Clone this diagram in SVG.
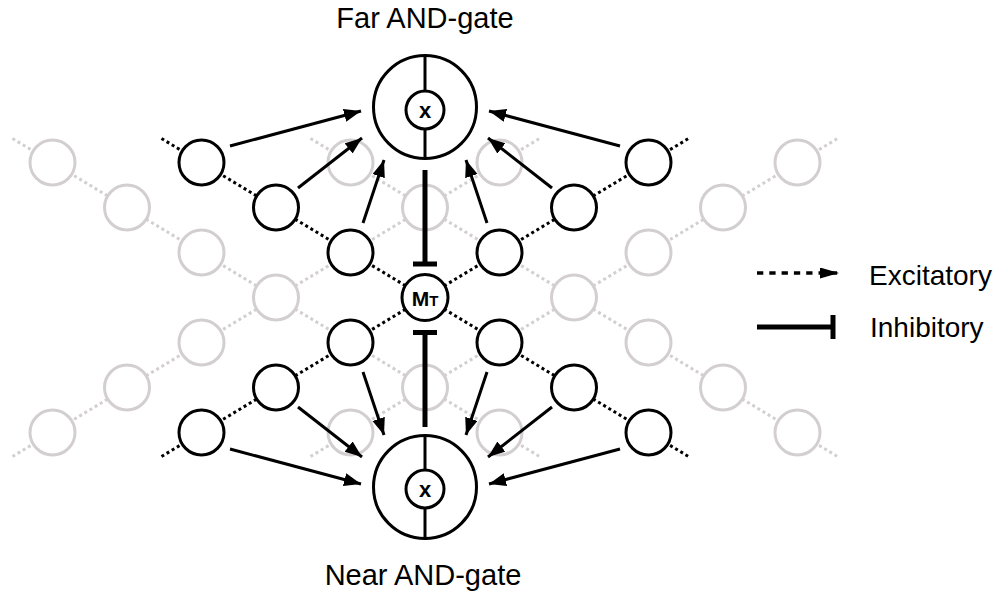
<svg xmlns="http://www.w3.org/2000/svg" width="1000" height="593" viewBox="0 0 1000 593">
<style>
.gl{stroke:#d3cfd1;stroke-width:3;stroke-dasharray:3 3;fill:none}
.bl{stroke:#000;stroke-width:3;stroke-dasharray:3 3;fill:none}
.gc{fill:#fff;stroke:#d3cfd1;stroke-width:3}
.bc{fill:#fff;stroke:#000;stroke-width:3}
.ar{stroke:#000;stroke-width:3;fill:none;marker-end:url(#ah)}
.inh{stroke:#000;stroke-width:5;fill:none}
.lab{font-family:"Liberation Sans",Arial,sans-serif;font-size:28px;fill:#000}
.glab{font-family:"Liberation Sans",Arial,sans-serif;font-size:29px;fill:#000}
.bold{font-family:"Liberation Sans",Arial,sans-serif;font-weight:bold;fill:#000}
.gx{font-size:22px}
.m{font-size:21px}
.t{font-size:15px}
</style>
<defs>
<marker id="ah" markerUnits="userSpaceOnUse" markerWidth="18" markerHeight="14" refX="17" refY="6.5" orient="auto">
<path d="M0,0 L17,6.5 L0,13 z" fill="#000"/>
</marker>
<marker id="ahs" markerUnits="userSpaceOnUse" markerWidth="20" markerHeight="12" refX="19" refY="5.5" orient="auto">
<path d="M0,0 L19,5.5 L0,11 z" fill="#000"/>
</marker>
</defs>
<g id="connectors">
<line class="gl" x1="12.5" y1="138.5" x2="539.5" y2="456.5"/>
<line class="gl" x1="310.5" y1="138.5" x2="837.5" y2="456.5"/>
<line class="gl" x1="12.5" y1="456.5" x2="539.5" y2="138.5"/>
<line class="gl" x1="310.5" y1="456.5" x2="837.5" y2="138.5"/>
<line class="bl" x1="161.5" y1="138.5" x2="688.5" y2="456.5"/>
<line class="bl" x1="161.5" y1="456.5" x2="688.5" y2="138.5"/>
</g>
<g id="grey-nodes">
<circle class="gc" cx="52.5" cy="162.5" r="22.5"/>
<circle class="gc" cx="127" cy="207.5" r="22.5"/>
<circle class="gc" cx="201.5" cy="252.5" r="22.5"/>
<circle class="gc" cx="276" cy="297.5" r="22.5"/>
<circle class="gc" cx="201.5" cy="342.5" r="22.5"/>
<circle class="gc" cx="127" cy="387.5" r="22.5"/>
<circle class="gc" cx="52.5" cy="432.5" r="22.5"/>
<circle class="gc" cx="350.5" cy="162.5" r="22.5"/>
<circle class="gc" cx="425" cy="207.5" r="22.5"/>
<circle class="gc" cx="499.5" cy="162.5" r="22.5"/>
<circle class="gc" cx="350.5" cy="432.5" r="22.5"/>
<circle class="gc" cx="425" cy="387.5" r="22.5"/>
<circle class="gc" cx="499.5" cy="432.5" r="22.5"/>
<circle class="gc" cx="797.5" cy="162.5" r="22.5"/>
<circle class="gc" cx="723" cy="207.5" r="22.5"/>
<circle class="gc" cx="648.5" cy="252.5" r="22.5"/>
<circle class="gc" cx="574" cy="297.5" r="22.5"/>
<circle class="gc" cx="648.5" cy="342.5" r="22.5"/>
<circle class="gc" cx="723" cy="387.5" r="22.5"/>
<circle class="gc" cx="797.5" cy="432.5" r="22.5"/>
</g>
<g id="projections">
<line class="ar" x1="230" y1="146" x2="361" y2="111"/>
<line class="ar" x1="298" y1="188" x2="362" y2="138"/>
<line class="ar" x1="363" y1="223" x2="384" y2="160"/>
<line class="ar" x1="620" y1="146" x2="489" y2="111"/>
<line class="ar" x1="552" y1="188" x2="488" y2="138"/>
<line class="ar" x1="487" y1="223" x2="466" y2="160"/>
<line class="ar" x1="230" y1="449" x2="361" y2="484"/>
<line class="ar" x1="298" y1="407" x2="362" y2="457"/>
<line class="ar" x1="363" y1="372" x2="384" y2="435"/>
<line class="ar" x1="620" y1="449" x2="489" y2="484"/>
<line class="ar" x1="552" y1="407" x2="488" y2="457"/>
<line class="ar" x1="487" y1="372" x2="466" y2="435"/>
</g>
<g id="inhibition">
<line class="inh" x1="425" y1="170" x2="425" y2="264"/>
<line class="inh" x1="413" y1="264" x2="437" y2="264"/>
<line class="inh" x1="425" y1="332.5" x2="425" y2="427"/>
<line class="inh" x1="413" y1="332.5" x2="437" y2="332.5"/>
</g>
<g id="black-nodes">
<circle class="bc" cx="201.5" cy="162.5" r="22.5"/>
<circle class="bc" cx="276" cy="207.5" r="22.5"/>
<circle class="bc" cx="350.5" cy="252.5" r="22.5"/>
<circle class="bc" cx="499.5" cy="252.5" r="22.5"/>
<circle class="bc" cx="574" cy="207.5" r="22.5"/>
<circle class="bc" cx="648.5" cy="162.5" r="22.5"/>
<circle class="bc" cx="350.5" cy="342.5" r="22.5"/>
<circle class="bc" cx="276" cy="387.5" r="22.5"/>
<circle class="bc" cx="201.5" cy="432.5" r="22.5"/>
<circle class="bc" cx="499.5" cy="342.5" r="22.5"/>
<circle class="bc" cx="574" cy="387.5" r="22.5"/>
<circle class="bc" cx="648.5" cy="432.5" r="22.5"/>
</g>
<g id="MT">
<circle class="bc" cx="425" cy="297.5" r="23"/>
<text class="bold" x="425" y="305.5" text-anchor="middle"><tspan class="m">M</tspan><tspan class="t">T</tspan></text>
</g>
<g id="far-gate">
<circle class="bc" cx="425" cy="107" r="51.5"/>
<line x1="425" y1="55.5" x2="425" y2="158.5" stroke="#000" stroke-width="3"/>
<circle class="bc" cx="425" cy="110" r="19"/>
<text class="bold gx" x="425" y="117.5" text-anchor="middle">x</text>
<text class="glab" x="425" y="28" text-anchor="middle">Far AND-gate</text>
</g>
<g id="near-gate">
<circle class="bc" cx="425" cy="487" r="51.5"/>
<line x1="425" y1="435.5" x2="425" y2="538.5" stroke="#000" stroke-width="3"/>
<circle class="bc" cx="425" cy="489" r="19"/>
<text class="bold gx" x="425" y="496.5" text-anchor="middle">x</text>
<text class="glab" x="423" y="585" text-anchor="middle">Near AND-gate</text>
</g>
<g id="legend">
<line x1="757" y1="273" x2="839" y2="273" stroke="#000" stroke-width="3.3" stroke-dasharray="6.3 6" marker-end="url(#ahs)"/>
<text class="lab" x="869" y="285">Excitatory</text>
<line class="inh" x1="757" y1="327" x2="833" y2="327"/>
<line class="inh" x1="833" y1="315" x2="833" y2="339"/>
<text class="lab" x="870" y="337">Inhibitory</text>
</g>
</svg>
